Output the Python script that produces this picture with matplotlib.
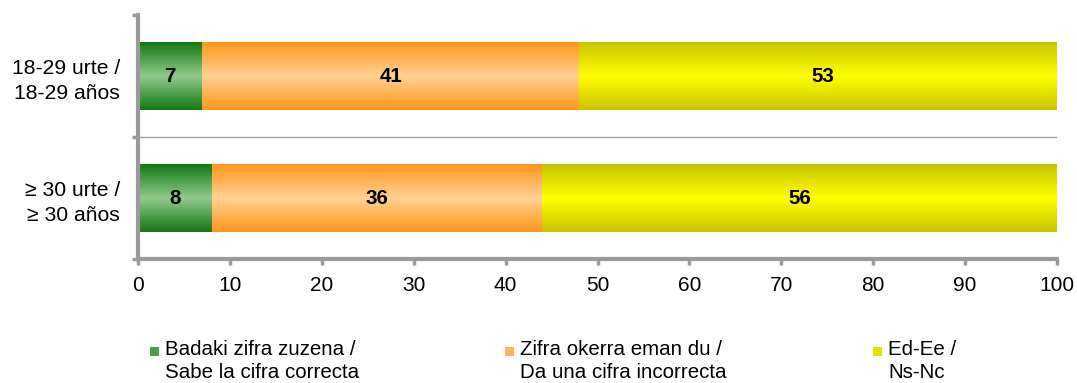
import numpy as np
import matplotlib
matplotlib.use("Agg")
import matplotlib.pyplot as plt
from matplotlib.colors import LinearSegmentedColormap
from matplotlib.patches import Rectangle

# Data
groups = ["18-29 urte /\n18-29 años", "≥ 30 urte /\n≥ 30 años"]
series_names = ["Badaki zifra zuzena /\nSabe la cifra correcta",
                "Zifra okerra eman du /\nDa una cifra incorrecta",
                "Ed-Ee /\nNs-Nc"]
correct = [7, 8]
incorrect = [41, 36]
dont_know = [53, 56]
x_ticks = [0, 10, 20, 30, 40, 50, 60, 70, 80, 90, 100]

series_values = [correct, incorrect, dont_know]
# (edge colour, centre colour) for the vertical gradient of each series
shades = [("#137713", "#90ca8d"),
          ("#ff961a", "#ffd292"),
          ("#c9c400", "#ffff00")]
legend_colors = ["#4aa04a", "#ffb464", "#e4e200"]

plt.rcParams["font.family"] = ["Liberation Sans", "DejaVu Sans"]
AXIS_GRAY = "#9a9a9a"
FS = 14.8

fig = plt.figure(figsize=(10.77, 3.83), dpi=100)
W, H = 1077, 383
ax = fig.add_axes([138 / W, (H - 259) / H, (1057 - 138) / W, (259 - 15) / H])
XMAX = 100

ypos = np.arange(len(groups))
bar_h = 0.55
left = np.zeros(len(groups))
grad = np.linspace(0, 1, 256).reshape(-1, 1)
for name, vals, (edge, centre) in zip(series_names, series_values, shades):
    vals = np.array(vals, dtype=float)
    bars = ax.barh(ypos, vals, left=left, height=bar_h, color=edge,
                   edgecolor="none", label=name)
    cmap = LinearSegmentedColormap.from_list("g", [edge, centre, edge])
    for rect, v, l in zip(bars, vals, left):
        x0, y0 = rect.get_x(), rect.get_y()
        h = rect.get_height()
        x1 = min(x0 + rect.get_width(), XMAX)
        im = ax.imshow(grad, cmap=cmap, aspect="auto",
                       extent=(x0, x1, y0 + h, y0), zorder=2,
                       interpolation="bicubic")
        im.set_clip_path(rect)
        ax.text(l + v / 2, y0 + h / 2, f"{v:g}", ha="center",
                va="center", fontsize=FS, fontweight="bold", color="black",
                zorder=3)
    left = left + vals

ax.set_xlim(0, XMAX)
ax.set_ylim(len(groups) - 0.5, -0.5)

# separator between the two groups
for b in np.arange(0.5, len(groups) - 0.5, 1):
    ax.plot([0, XMAX], [b, b], color="#a0a0a0", lw=1.0, zorder=1)

ax.set_xticks(x_ticks)
ax.set_xticklabels([str(t) for t in x_ticks], fontsize=15)
ax.set_yticks(np.arange(-0.5, len(groups), 1))
ax.set_yticklabels([])
ax.set_yticks(ypos, minor=True)
ax.set_yticklabels(groups, minor=True, fontsize=15.2, linespacing=1.37)
ax.tick_params(axis="y", which="minor", length=0, pad=13)
ax.tick_params(axis="y", which="major", length=4, width=2.5, color=AXIS_GRAY,
               direction="out")
ax.tick_params(axis="x", length=4, width=2.5, color=AXIS_GRAY, direction="out",
               pad=8.5)

for s in ["top", "right"]:
    ax.spines[s].set_visible(False)
for s in ["left", "bottom"]:
    ax.spines[s].set_color(AXIS_GRAY)
    ax.spines[s].set_linewidth(3)

# legend entries along the bottom
legend_x = [150, 505, 873]
sq = 9
for x, name, col in zip(legend_x, series_names, legend_colors):
    fig.patches.append(Rectangle((x / W, (H - 351 - sq / 2) / H), sq / W, sq / H,
                                 transform=fig.transFigure, facecolor=col,
                                 edgecolor="none"))
    fig.text((x + sq + 6) / W, (H - 340) / H, name, ha="left", va="top",
             fontsize=FS, linespacing=1.3)

fig.savefig("out.png", dpi=100)
